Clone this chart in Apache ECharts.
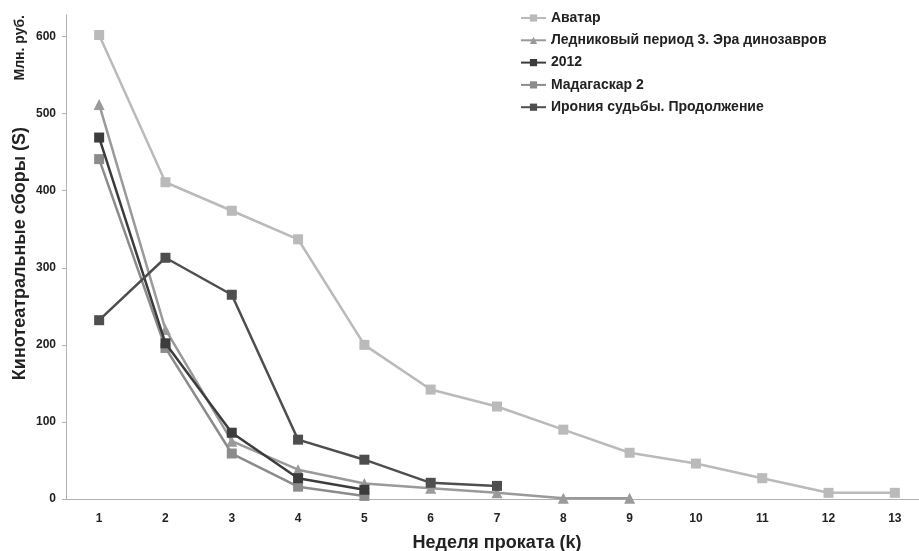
<!DOCTYPE html>
<html>
<head>
<meta charset="utf-8">
<script src="https://cdn.jsdelivr.net/npm/echarts@6/dist/echarts.min.js"></script>
<style>html,body{margin:0;padding:0;background:#fff}#c{width:919px;height:551px}</style>
</head>
<body>
<div id="c"></div>
<script>
var weeks = ['1','2','3','4','5','6','7','8','9','10','11','12','13'];
var names = ['Аватар','Ледниковый период 3. Эра динозавров','2012','Мадагаскар 2','Ирония судьбы. Продолжение'];
var avatar = [602, 411, 374, 337, 200, 142, 120, 90, 60, 46, 27, 8, 8];
var iceAge = [512, 220, 75, 38, 20, 14, 8, 1, 1];
var y2012 = [469, 202, 86, 27, 12];
var madagascar = [441, 196, 59, 16, 4];
var irony = [232, 313, 265, 77, 51, 21, 17];

var font = '"Liberation Sans", Arial, sans-serif';
function mk(name, data, color, symbol, z) {
  return {
    name: name, type: 'line', data: data, symbol: symbol, symbolSize: symbol === 'triangle' ? 11 : 10,
    z: z, lineStyle: {color: color, width: 2.5}, itemStyle: {color: color}, animation: false
  };
}
var chart = echarts.init(document.getElementById('c'));
chart.setOption({
  backgroundColor: '#fff',
  animation: false,
  textStyle: {fontFamily: font},
  grid: {left: 66, top: 15, bottom: 52, right: -9, containLabel: false, outerBoundsMode: 'none'},
  legend: {
    orient: 'vertical', left: 520, top: 11, padding: 0, itemWidth: 25, itemHeight: 9, itemGap: 8.3,
    textStyle: {fontFamily: font, fontWeight: 'bold', fontSize: 14, color: '#222', padding: [1, 0, 0, 0]},
    data: names
  },
  xAxis: {
    type: 'category', data: weeks, boundaryGap: true,
    axisLine: {lineStyle: {color: '#b0b0b0', width: 1}},
    axisTick: {inside: true, length: 4, lineStyle: {color: '#b0b0b0'}},
    axisLabel: {fontFamily: font, fontWeight: 'bold', fontSize: 12, color: '#222', margin: 14},
    name: 'Неделя проката (k)', nameLocation: 'middle', nameGap: 35,
    nameTextStyle: {fontFamily: font, fontWeight: 'bold', fontSize: 18, color: '#222'}
  },
  yAxis: {
    type: 'value', min: 0, max: 628, interval: 100,
    splitLine: {show: false},
    axisLine: {show: true, lineStyle: {color: '#b0b0b0', width: 1}},
    axisTick: {show: true, length: 4, lineStyle: {color: '#b0b0b0'}},
    axisLabel: {fontFamily: font, fontWeight: 'bold', fontSize: 12, color: '#222', margin: 10, showMaxLabel: false}
  },
  graphic: [
    {type: 'text', left: 11, top: 127, rotation: Math.PI / 2,
     style: {text: 'Кинотеатральные сборы (S)', font: 'bold 18px ' + font, fill: '#222'}},
    {type: 'text', left: 13, top: 15, rotation: Math.PI / 2,
     style: {text: 'Млн. руб.', font: 'bold 14px ' + font, fill: '#222'}}
  ],
  series: [
    mk(names[0], avatar, '#bababa', 'rect', 2),
    mk(names[1], iceAge, '#9a9a9a', 'triangle', 3),
    mk(names[2], y2012, '#3c3c3c', 'rect', 5),
    mk(names[3], madagascar, '#8b8b8b', 'rect', 4),
    mk(names[4], irony, '#4e4e4e', 'rect', 6)
  ]
});
</script>
</body>
</html>
